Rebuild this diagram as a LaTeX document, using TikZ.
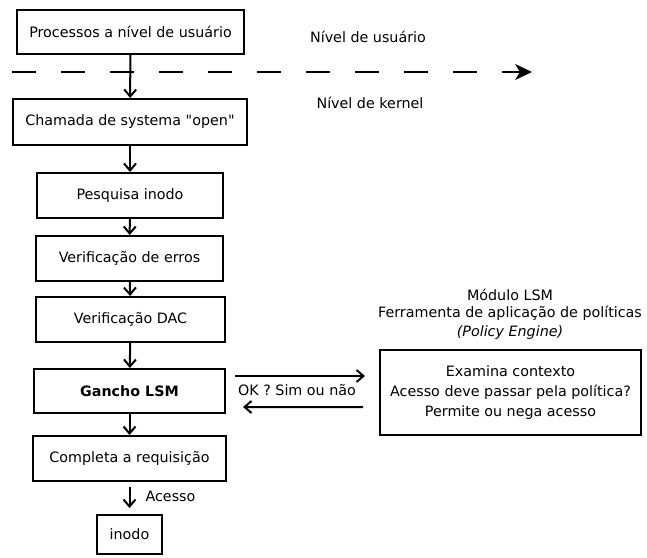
\documentclass[tikz,border=0pt]{standalone}
\usepackage{fontspec}
\setmainfont{DejaVu Sans}
\usetikzlibrary{arrows.meta,calc}
% straight double quote, bypassing the TeX quote mapping
\newcommand{\sqq}{\XeTeXglyph\XeTeXcharglyph"22\relax}
\begin{document}
\begin{tikzpicture}[x=1bp,y=-1bp,
  every node/.style={font=\fontsize{14.3bp}{20bp}\selectfont, inner sep=0pt},
  stepbox/.style={draw, line width=2bp, align=center},
  flow/.style={line width=2bp, -{Straight Barb[length=7bp,width=12bp]}},
  levelline/.style={line width=2bp, dash pattern=on 24bp off 25bp,
    -{Stealth[length=17bp,width=16bp,inset=5bp]}}]
\useasboundingbox (0,0) rectangle (647,558);

% main call path
\node[stepbox, minimum width=227bp, minimum height=44bp] (b1) at (130.5,32) {Processos a nível de usuário};
\node[stepbox, minimum width=234bp, minimum height=46bp] (b2) at (130,122) {Chamada de systema \sqq open\sqq};
\node[stepbox, minimum width=186bp, minimum height=45bp] (b3) at (130,195.5) {Pesquisa inodo};
\node[stepbox, minimum width=187bp, minimum height=45bp] (b4) at (129.5,258.5) {Verificação de erros};
\node[stepbox, minimum width=189bp, minimum height=45bp] (b5) at (130.5,319.5) {Verificação DAC};
\node[stepbox, minimum width=191bp, minimum height=44bp, font=\fontsize{14.3bp}{20bp}\selectfont\bfseries] (b6) at (129.5,391) {Gancho LSM};
\node[stepbox, minimum width=193bp, minimum height=45bp] (b7) at (129.5,458.5) {Completa a requisição};
\node[stepbox, minimum width=65bp, minimum height=39bp] (b8) at (129.5,534.5) {inodo};

% policy engine
\node[stepbox, minimum width=261bp, minimum height=85bp] (pe) at (510.5,392.5)
  {Examina contexto\\Acesso deve passar pela política?\\Permite ou nega acesso};
\node (m1) at (510,295) {Módulo LSM};
\node (m2) at (510,313) {Ferramenta de aplicação de políticas};
\node (m3) at (510,333) {\itshape (Policy Engine)};

% user / kernel boundary
\coordinate (dl) at (12,72);
\coordinate (dr) at (532,72);
\draw[levelline] (dl) -- (dr);
\node (lu) at (368,37) {Nível de usuário};
\node (lk) at (370,103) {Nível de kernel};

% connectors
\draw[flow] (b1) -- (b2);
\draw[flow] (b2) -- (b3);
\draw[flow] (b3) -- (b4);
\draw[flow] (b4) -- (b5);
\draw[flow] (b5) -- (b6);
\draw[flow] (b6) -- (b7);
\draw[flow, shorten <=5bp, shorten >=6bp] (b7) -- (b8);
\node (ac) at (170.5,496) {Acesso};

\draw[flow] ($(b6.east)+(9,-15)$) -- ($(pe.west)+(-14,-16.5)$);
\draw[flow] ($(pe.west)+(-16,14.5)$) -- ($(b6.east)+(17,16)$);
\node (ok) at (297,390) {OK ? Sim ou não};
\end{tikzpicture}
\end{document}
